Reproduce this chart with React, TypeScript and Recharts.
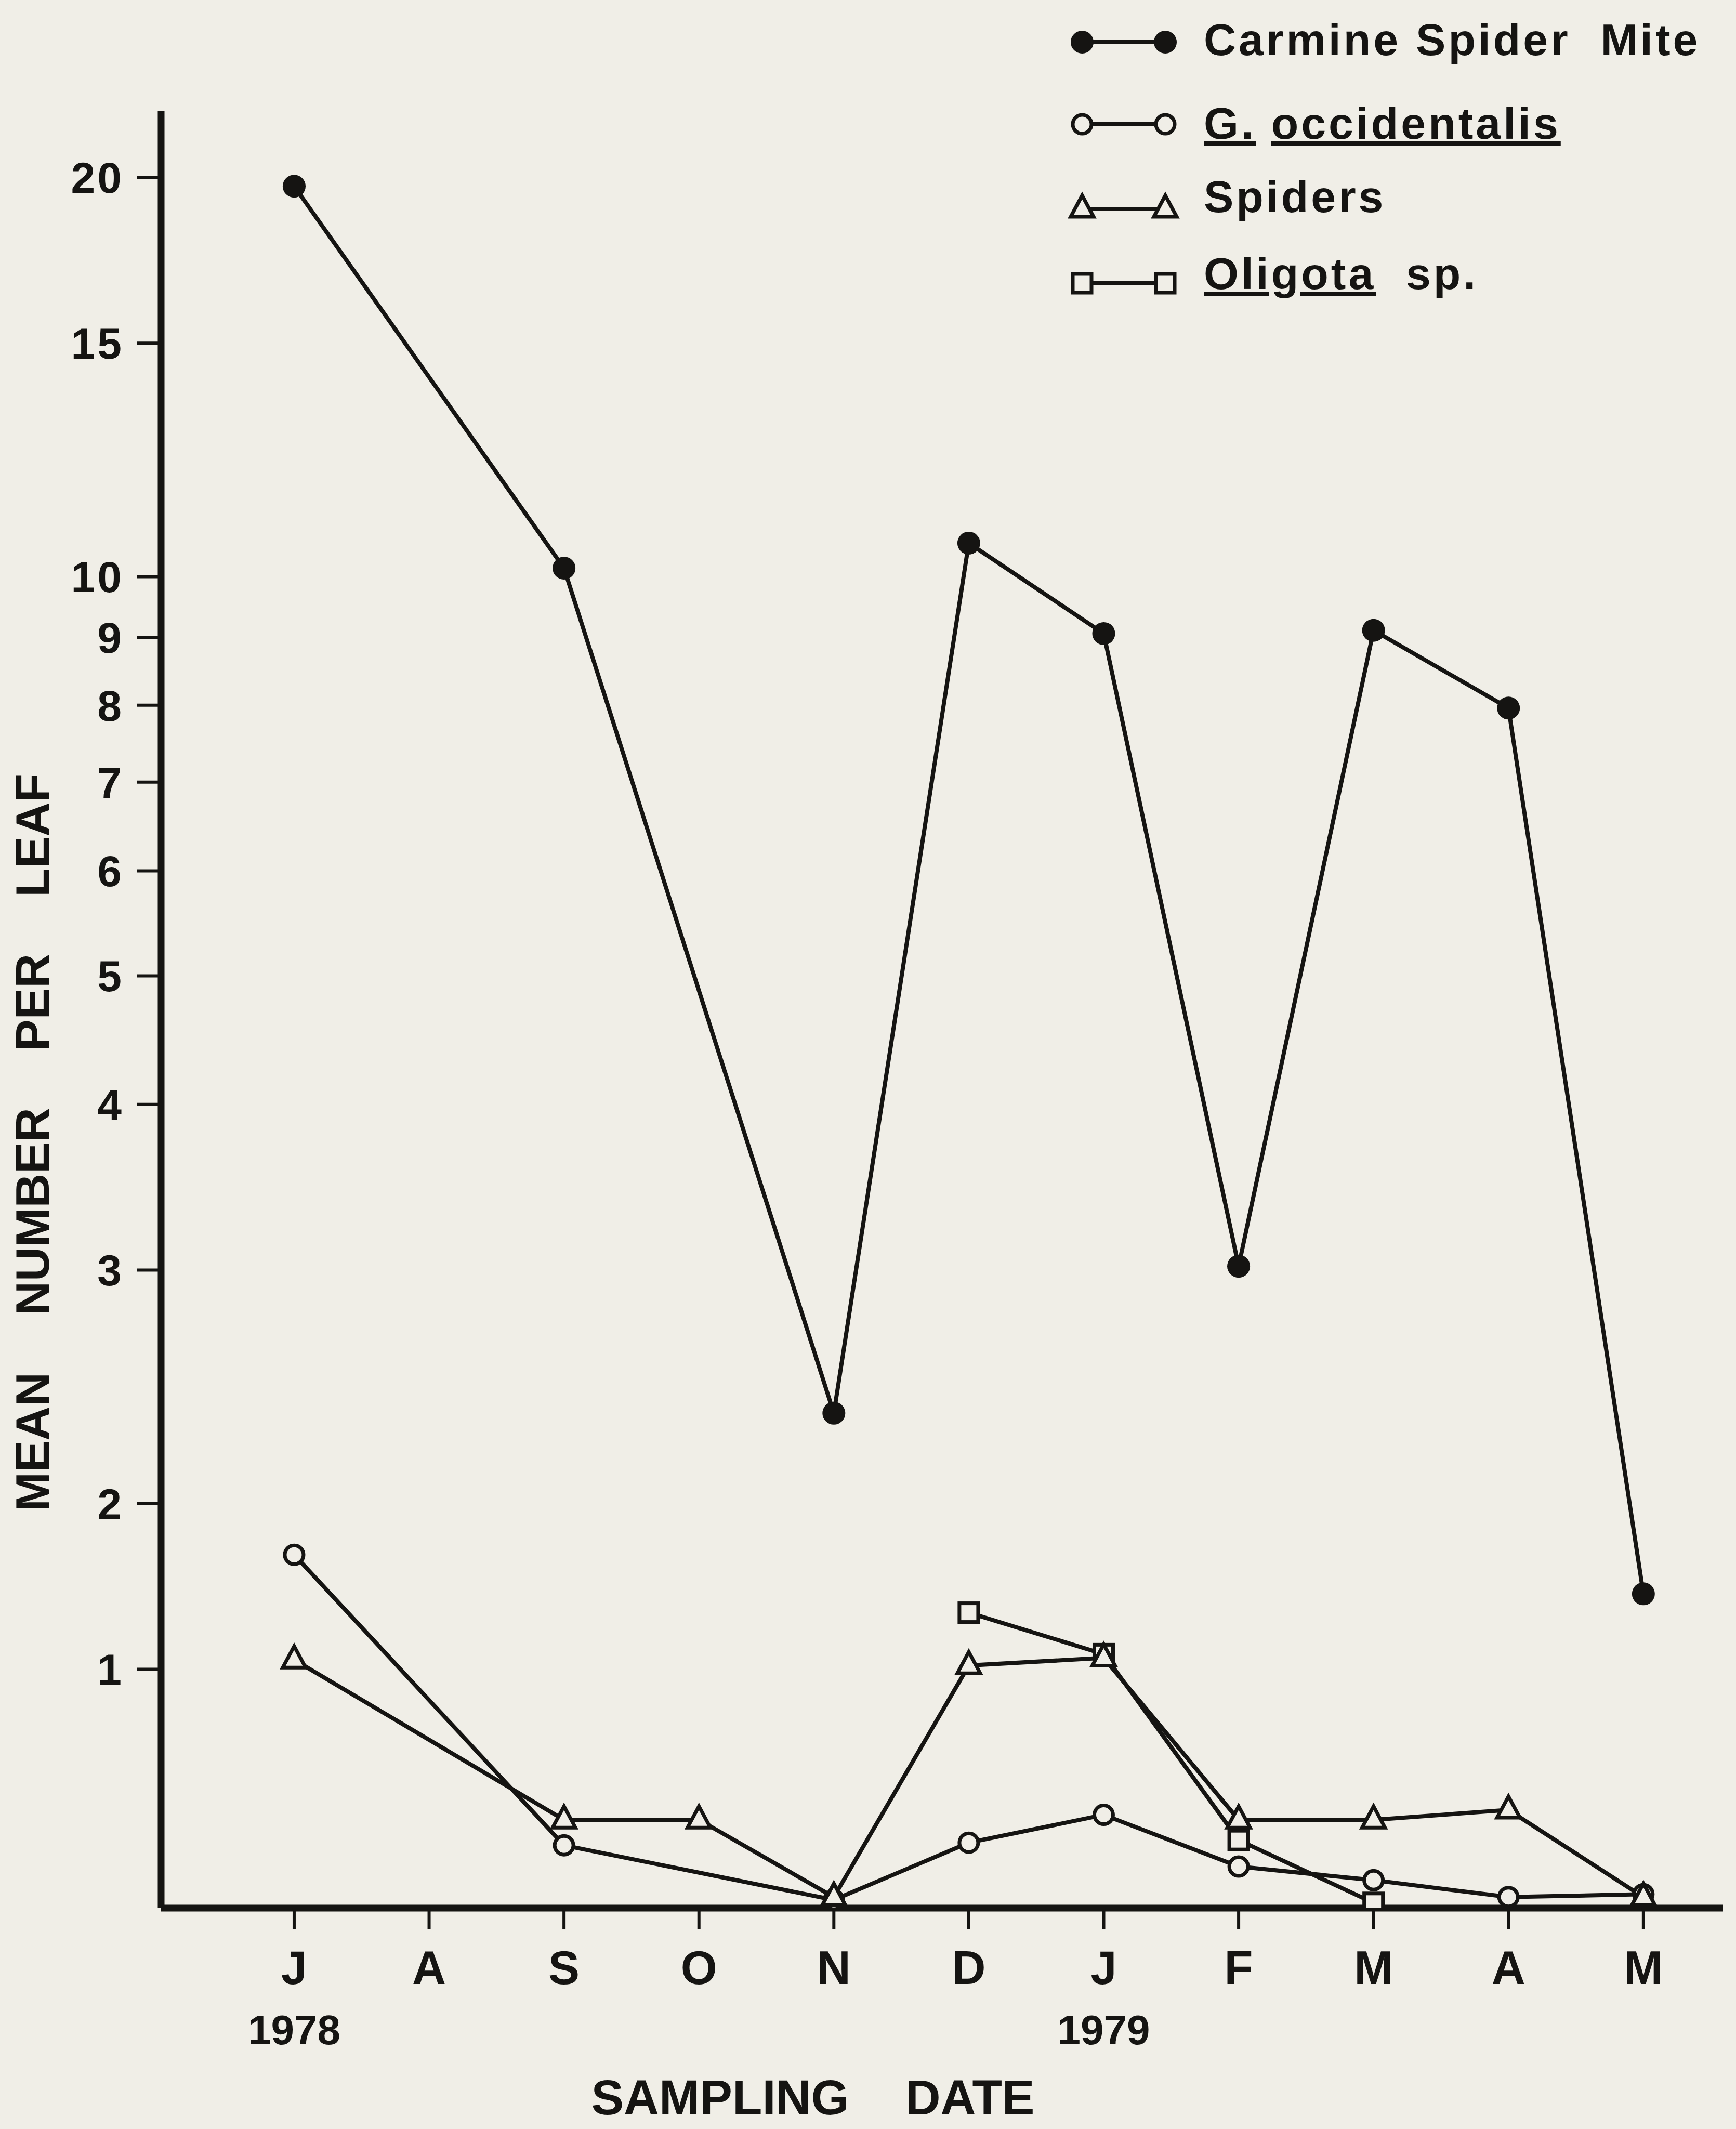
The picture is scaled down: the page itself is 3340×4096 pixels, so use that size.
import React from 'react';
import { LineChart, Line, XAxis, YAxis, Legend, Label } from 'recharts';

// ---------- data ----------
const MONTHS = ['J', 'A', 'S', 'O', 'N', 'D', 'J', 'F', 'M', 'A', 'M'];
const YEARS: (string | null)[] = ['1978', null, null, null, null, null, '1979', null, null, null, null];

const CARMINE: (number | null)[] = [19.7, null, 10.15, null, 2.34, 10.6, 9.06, 3.02, 9.11, 7.96, 1.42];
const G_OCCIDENTALIS: (number | null)[] = [1.66, null, 0.21, null, 0.01, 0.22, 0.33, 0.13, 0.08, 0.02, 0.03];
const SPIDERS: (number | null)[] = [1.05, null, 0.31, 0.31, 0.02, 1.02, 1.06, 0.31, 0.31, 0.35, 0.02];
const OLIGOTA: (number | null)[] = [null, null, null, null, null, 1.31, 1.08, 0.23, 0.0, null, null];

const Y_TICKS = [1, 2, 3, 4, 5, 6, 7, 8, 9, 10, 15, 20];

// ---------- style ----------
const INK = '#151412';
const PAPER = '#f0eee7';
const FONT = '"Liberation Sans", Arial, Helvetica, sans-serif';

// Axis transform of the original figure: logarithmic above 2, compressed below 2
const toAxis = (v: number) => (v >= 2 ? Math.log10(v) : Math.log10(1 + v / 2));
const AXIS_MIN = -0.004;
const AXIS_MAX = 1.351;
const Y_TICK_POS = Y_TICKS.map(toAxis);

const tr = (v: number | null) => (v == null ? null : toAxis(v));

const data = MONTHS.map((m, i) => ({
  i,
  carmine: tr(CARMINE[i]),
  gocc: tr(G_OCCIDENTALIS[i]),
  spiders: tr(SPIDERS[i]),
  oligota: tr(OLIGOTA[i]),
}));

type Shape = 'filled' | 'circle' | 'triangle' | 'square';

function Marker({ shape, cx, cy }: { shape: Shape; cx: number; cy: number }) {
  switch (shape) {
    case 'filled':
      return <circle cx={cx} cy={cy} r={22} fill={INK} />;
    case 'circle':
      return <circle cx={cx} cy={cy} r={18} fill={PAPER} stroke={INK} strokeWidth={7} />;
    case 'triangle':
      return (
        <polygon
          points={`${cx},${cy - 26} ${cx - 22},${cy + 15} ${cx + 22},${cy + 15}`}
          fill={PAPER}
          stroke={INK}
          strokeWidth={7}
        />
      );
    case 'square':
    default:
      return <rect x={cx - 18} y={cy - 18} width={36} height={36} fill={PAPER} stroke={INK} strokeWidth={7} />;
  }
}

const makeDot = (shape: Shape) => (p: any) => {
  const k = `${shape}-${p.index}`;
  if (p.cx == null || p.cy == null || p.value == null || Number.isNaN(p.cy)) return <g key={k} />;
  return (
    <g key={k}>
      <Marker shape={shape} cx={p.cx} cy={p.cy} />
    </g>
  );
};

const SERIES: { key: string; shape: Shape }[] = [
  { key: 'oligota', shape: 'square' },
  { key: 'gocc', shape: 'circle' },
  { key: 'spiders', shape: 'triangle' },
  { key: 'carmine', shape: 'filled' },
];

const LEGEND_ROWS: { shape: Shape; parts: { t: string; u: boolean }[]; sy: number; ty: number }[] = [
  { shape: 'filled', parts: [{ t: 'Carmine Spider  Mite', u: false }], sy: 81, ty: 106 },
  { shape: 'circle', parts: [{ t: 'G.', u: true }, { t: ' ', u: false }, { t: 'occidentalis', u: true }], sy: 239, ty: 267 },
  { shape: 'triangle', parts: [{ t: 'Spiders', u: false }], sy: 402, ty: 408 },
  { shape: 'square', parts: [{ t: 'Oligota', u: true }, { t: '  sp.', u: false }], sy: 545, ty: 556 },
];

function LegendBox() {
  return (
    <svg width={1340} height={620} style={{ display: 'block', overflow: 'visible' }}>
      {LEGEND_ROWS.map((r, idx) => (
        <g key={idx}>
          <line x1={82} y1={r.sy} x2={242} y2={r.sy} stroke={INK} strokeWidth={8} />
          <Marker shape={r.shape} cx={82} cy={r.sy} />
          <Marker shape={r.shape} cx={242} cy={r.sy} />
          <text
            x={316}
            y={r.ty}
            fontFamily={FONT}
            fontWeight={700}
            fontSize={86}
            letterSpacing={5}
            fill={INK}
            style={{ whiteSpace: 'pre' }}
          >
            {r.parts.map((p, j) => (
              <tspan key={j} textDecoration={p.u ? 'underline' : 'none'} style={{ textDecoration: p.u ? 'underline' : 'none' }}>
                {p.t}
              </tspan>
            ))}
          </text>
        </g>
      ))}
    </svg>
  );
}

function XTick(props: any) {
  const { x, y, payload } = props;
  const i = Math.round(payload.value);
  const month = MONTHS[i];
  const year = YEARS[i];
  if (month == null) return <g />;
  return (
    <g>
      <text x={x} y={y + 106} textAnchor="middle" fontFamily={FONT} fontWeight={700} fontSize={90} fill={INK}>
        {month}
      </text>
      {year ? (
        <text x={x} y={y + 222} textAnchor="middle" fontFamily={FONT} fontWeight={700} fontSize={80} fill={INK}>
          {year}
        </text>
      ) : null}
    </g>
  );
}

const yTickFormatter = (v: number) => {
  const k = Y_TICK_POS.findIndex((t) => Math.abs(t - v) < 1e-9);
  return k >= 0 ? String(Y_TICKS[k]) : '';
};

function YTitle() {
  const cx = 62;
  const cy = 2198;
  return (
    <text
      x={cx}
      y={cy}
      transform={`rotate(-90 ${cx} ${cy})`}
      textAnchor="middle"
      dominantBaseline="central"
      fontFamily={FONT}
      fontWeight={700}
      fontSize={91}
      fill={INK}
    >
      <tspan>MEAN</tspan>
      <tspan dx={84}> NUMBER</tspan>
      <tspan dx={84}> PER</tspan>
      <tspan dx={84}> LEAF</tspan>
    </text>
  );
}

function XTitle() {
  return (
    <text x={1564} y={4068} textAnchor="middle" fontFamily={FONT} fontWeight={700} fontSize={94} fill={INK}>
      <tspan>SAMPLING</tspan>
      <tspan dx={82}> DATE</tspan>
    </text>
  );
}

export default function App() {
  return (
    <div style={{ position: 'absolute', left: 0, top: 0, width: 3340, height: 4096, background: PAPER, overflow: 'hidden' }}>
      <LineChart width={3340} height={4096} data={data} margin={{ top: 214, right: 25, bottom: 0, left: 0 }}>
        <XAxis
          dataKey="i"
          type="number"
          domain={[-0.986, 10.59]}
          ticks={[0, 1, 2, 3, 4, 5, 6, 7, 8, 9, 10]}
          interval={0}
          allowDataOverflow
          height={425}
          tickSize={40}
          tickMargin={0}
          axisLine={{ stroke: INK, strokeWidth: 13 }}
          tickLine={{ stroke: INK, strokeWidth: 6 }}
          tick={<XTick />}
        >
          <Label content={<XTitle />} />
        </XAxis>
        <YAxis
          type="number"
          domain={[AXIS_MIN, AXIS_MAX]}
          ticks={Y_TICK_POS}
          interval={0}
          allowDataOverflow
          width={310}
          tickSize={46}
          tickMargin={26}
          tickFormatter={yTickFormatter}
          axisLine={{ stroke: INK, strokeWidth: 13 }}
          tickLine={{ stroke: INK, strokeWidth: 6 }}
          tick={{ fontFamily: FONT, fontWeight: 700, fontSize: 84, fill: INK, letterSpacing: 4 }}
        >
          <Label content={<YTitle />} />
        </YAxis>
        <Legend
          layout="vertical"
          align="center"
          verticalAlign="middle"
          wrapperStyle={{ left: 2000, top: 0, width: 1340, height: 620 }}
          content={() => <LegendBox />}
        />
        {SERIES.map((s) => (
          <Line
            key={s.key}
            dataKey={s.key}
            stroke={INK}
            strokeWidth={8}
            connectNulls
            isAnimationActive={false}
            dot={makeDot(s.shape)}
            activeDot={false}
            legendType="none"
          />
        ))}
      </LineChart>
    </div>
  );
}
